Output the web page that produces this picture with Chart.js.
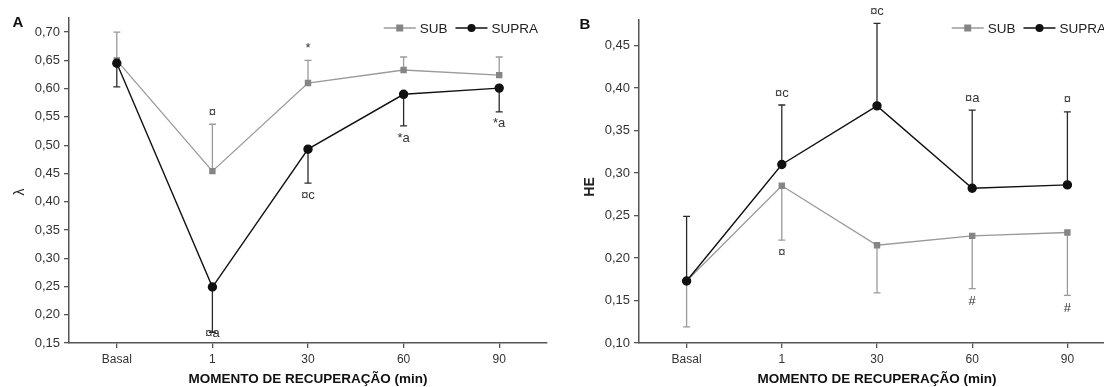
<!DOCTYPE html>
<html><head><meta charset="utf-8">
<script src="https://cdn.jsdelivr.net/npm/chart.js@4"></script>
<style>
html,body{margin:0;padding:0;background:#fff;overflow:hidden;width:1104px;height:387px;position:relative;}
#ca{position:absolute;left:0;top:0;}
#cb{position:absolute;left:555px;top:0;}
</style></head><body>
<canvas id="ca" width="560" height="387"></canvas>
<canvas id="cb" width="570" height="387"></canvas>
<script>
// ---------- data ----------
const categories = ['Basal', '1', '30', '60', '90'];
const seriesNames = ['SUB', 'SUPRA'];

// Panel A (lambda)
const subA      = [0.650, 0.454, 0.610, 0.633, 0.624];
const subA_sd   = [0.050, 0.083, 0.040, 0.023, 0.032];
const supraA    = [0.645, 0.249, 0.493, 0.590, 0.601];
const supraA_sd = [0.042, 0.080, 0.060, 0.056, 0.042];
const yTicksA   = [0.15, 0.20, 0.25, 0.30, 0.35, 0.40, 0.45, 0.50, 0.55, 0.60, 0.65, 0.70];
const notesA = [
  {series: 0, i: 1, text: '¤'},
  {series: 1, i: 1, text: '¤a'},
  {series: 0, i: 2, text: '*'},
  {series: 1, i: 2, text: '¤c'},
  {series: 1, i: 3, text: '*a'},
  {series: 1, i: 4, text: '*a'}
];

// Panel B (HE)
const subB      = [0.173, 0.285, 0.215, 0.226, 0.230];
const subB_sd   = [0.054, 0.064, 0.056, 0.062, 0.074];
const supraB    = [0.173, 0.310, 0.379, 0.282, 0.286];
const supraB_sd = [0.076, 0.070, 0.097, 0.092, 0.086];
const yTicksB   = [0.10, 0.15, 0.20, 0.25, 0.30, 0.35, 0.40, 0.45];
const notesB = [
  {series: 1, i: 1, text: '¤c'},
  {series: 0, i: 1, text: '¤'},
  {series: 1, i: 2, text: '¤c'},
  {series: 1, i: 3, text: '¤a'},
  {series: 1, i: 4, text: '¤'},
  {series: 0, i: 3, text: '#'},
  {series: 0, i: 4, text: '#'}
];

const xTitle = 'MOMENTO DE RECUPERAÇÃO (min)';

// ---------- styles ----------
const GRAY = '#9a9a9a', GRAY_M = '#858585', BLACK = '#111111', AX = '#555555';
const FONT = '"Liberation Sans", Arial, sans-serif';

function fmt(v){ return v.toFixed(2).replace('.', ','); }

const panelPlugin = {
  id: 'panel',
  beforeDatasetsDraw(chart) {
    const o = chart.options.plugins.panel;
    const {ctx} = chart; const xs = chart.scales.x, ys = chart.scales.y;
    ctx.save();
    o.errors.forEach(e => {
      ctx.strokeStyle = e.color; ctx.lineWidth = 1.3;
      e.mean.forEach((m, i) => {
        const x = xs.getPixelForValue(i);
        const y0 = ys.getPixelForValue(m);
        const y1 = ys.getPixelForValue(m + e.dir * e.sd[i]);
        ctx.beginPath();
        ctx.moveTo(x, y0); ctx.lineTo(x, y1);
        ctx.moveTo(x - 3.5, y1); ctx.lineTo(x + 3.5, y1);
        ctx.stroke();
      });
    });
    ctx.restore();
  },
  afterDatasetsDraw(chart) {
    const o = chart.options.plugins.panel;
    const {ctx} = chart; const xs = chart.scales.x, ys = chart.scales.y;
    ctx.save();
    ctx.fillStyle = '#333'; ctx.font = '13px ' + FONT;
    ctx.textAlign = 'center'; ctx.textBaseline = 'middle';
    o.notes.forEach(n => {
      const e = o.errors[n.series];
      const end = e.mean[n.i] + e.dir * e.sd[n.i];
      const x = xs.getPixelForValue(n.i);
      let y = ys.getPixelForValue(end) - e.dir * (n.text.startsWith('#') ? 13 : 12);
      y = Math.min(y, chart.chartArea.bottom - 10);
      ctx.fillText(n.text, x, y);
    });
    // legend
    ctx.font = '13.5px ' + FONT; ctx.textAlign = 'left';
    let x = chart.chartArea.right - 9;
    const y = o.legendY;
    const items = chart.data.datasets.slice().sort((a,b)=>a.legendIndex-b.legendIndex);
    const widths = items.map(d => ctx.measureText(d.label).width);
    let total = 0; items.forEach((d, k) => { total += 32 + 4 + widths[k] + (k < items.length-1 ? 8 : 0); });
    x -= total;
    items.forEach((d, k) => {
      ctx.strokeStyle = d.borderColor; ctx.lineWidth = 1.3;
      ctx.beginPath(); ctx.moveTo(x, y); ctx.lineTo(x + 32, y); ctx.stroke();
      ctx.fillStyle = d.pointBackgroundColor;
      if (d.pointStyle === 'rect') ctx.fillRect(x + 16 - 3.5, y - 3.5, 7, 7);
      else { ctx.beginPath(); ctx.arc(x + 16, y, 4, 0, Math.PI*2); ctx.fill(); }
      ctx.fillStyle = '#222';
      ctx.fillText(d.label, x + 36, y + 1);
      x += 36 + widths[k] + 8;
    });
    // panel letter
    ctx.font = 'bold 15px ' + FONT; ctx.fillStyle = '#111';
    ctx.textAlign = 'center';
    ctx.fillText(o.letter, o.letterX, o.letterY);
    // y title
    ctx.save();
    ctx.translate(o.yTitleX, o.yTitleY); ctx.rotate(-Math.PI/2);
    ctx.font = o.yTitleFont; ctx.fillStyle = '#222';
    ctx.fillText(o.yTitle, 0, 0);
    ctx.restore();
    ctx.restore();
  }
};

function makeChart(id, sub, subSd, subDir, supra, supraSd, supraDir, yTicks, yMin, yMax, notes, opt) {
  return new Chart(document.getElementById(id), {
    type: 'line',
    data: {
      labels: categories,
      datasets: [
        {label: seriesNames[0], data: sub, legendIndex: 0, order: 2,
         borderColor: GRAY, borderWidth: 1.3, pointStyle: 'rect', pointRadius: 3.6,
         pointBackgroundColor: GRAY_M, pointBorderColor: GRAY_M, tension: 0},
        {label: seriesNames[1], data: supra, legendIndex: 1, order: 1,
         borderColor: BLACK, borderWidth: 1.4, pointStyle: 'circle', pointRadius: 4,
         pointBackgroundColor: BLACK, pointBorderColor: BLACK, tension: 0}
      ]
    },
    options: {
      responsive: false, animation: false,
      layout: {padding: {left: 0, right: opt.padRight, top: opt.padTop, bottom: 0}},
      plugins: {
        legend: {display: false}, tooltip: {enabled: false},
        panel: {
          errors: [
            {mean: sub, sd: subSd, dir: subDir, color: GRAY},
            {mean: supra, sd: supraSd, dir: supraDir, color: '#2a2a2a'}
          ],
          notes: notes, legendY: 28, letter: opt.letter, letterX: opt.letterX, letterY: opt.letterY,
          yTitle: opt.yTitle, yTitleX: opt.yTitleX, yTitleY: opt.yTitleY, yTitleFont: opt.yTitleFont
        }
      },
      scales: {
        x: {
          type: 'category', offset: true,
          grid: {display: true, drawOnChartArea: false, drawTicks: true, tickLength: 5, color: AX, lineWidth: 1.3, offset: false},
          border: {display: true, color: AX, width: 1.5},
          ticks: {font: {family: FONT, size: 12}, color: '#333', padding: 4, maxRotation: 0},
          title: {display: true, text: xTitle, font: {family: FONT, size: 13.5, weight: 'bold'}, color: '#111', padding: {top: 0, bottom: opt.xTitlePad}},
          afterFit(s) { s.height = 44; }
        },
        y: {
          type: 'linear', min: yMin, max: yMax,
          afterBuildTicks(s) { s.ticks = yTicks.map(v => ({value: v})); },
          grid: {display: true, drawOnChartArea: false, drawTicks: true, tickLength: 5, color: AX, lineWidth: 1.3},
          border: {display: true, color: AX, width: 1.5},
          ticks: {font: {family: FONT, size: 13}, color: '#333', padding: 4, callback: v => fmt(v)},
          afterFit(s) { s.width = opt.yWidth; }
        }
      }
    },
    plugins: [panelPlugin]
  });
}

makeChart('ca', subA, subA_sd, 1, supraA, supraA_sd, -1, yTicksA, 0.15, 0.725, notesA,
  {padRight: 13, padTop: 18, letter: 'A', letterX: 18, letterY: 23, yWidth: 69, xTitlePad: 0,
   yTitle: 'λ', yTitleX: 20, yTitleY: 192, yTitleFont: '14px ' + FONT});
makeChart('cb', subB, subB_sd, -1, supraB, supraB_sd, 1, yTicksB, 0.10, 0.48, notesB,
  {padRight: 10, padTop: 20, letter: 'B', letterX: 30, letterY: 25, yWidth: 84, xTitlePad: 0,
   yTitle: 'HE', yTitleX: 35, yTitleY: 187, yTitleFont: 'bold 14px ' + FONT});
</script>
</body></html>
